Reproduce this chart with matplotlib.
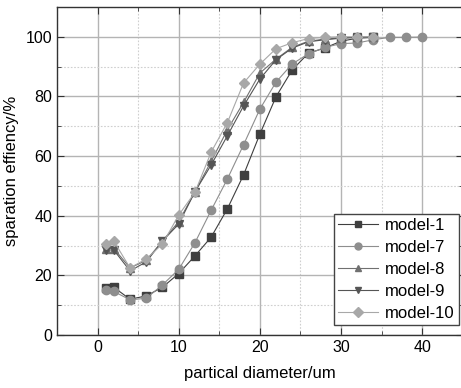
import numpy as np
import matplotlib
matplotlib.use("Agg")
import matplotlib.pyplot as plt
from matplotlib.ticker import MultipleLocator

plt.rcParams['font.family'] = ['Liberation Sans', 'DejaVu Sans']

# particle diameter (um)
x_short = [1, 2, 4, 6, 8, 10, 12, 14, 16, 18, 20, 22, 24, 26, 28, 30, 32, 34]
x_long = [1, 2, 4, 6, 8, 10, 12, 14, 16, 18, 20, 22, 24, 26, 28, 30, 32, 34, 36, 38, 40]

model_1 = [15.7, 16.0, 12.0, 13.1, 16.0, 20.6, 26.5, 32.8, 42.3, 53.7, 67.3, 79.9,
           88.9, 94.5, 96.2, 98.5, 99.5, 99.8]
model_7 = [15.0, 14.6, 11.8, 12.3, 16.8, 22.0, 30.9, 41.8, 52.3, 63.8, 75.7, 84.8,
           90.9, 94.3, 96.4, 97.7, 97.9, 99.0, 99.8, 99.8, 99.9]
model_8 = [29.0, 29.0, 22.5, 25.0, 31.5, 38.0, 48.0, 58.2, 68.8, 78.0, 87.8, 92.5,
           96.5, 98.5, 99.2, 99.6, 99.8, 100.0]
model_9 = [28.5, 28.5, 21.5, 24.5, 31.5, 37.2, 48.0, 57.0, 66.8, 76.8, 85.8, 92.3,
           96.2, 98.3, 99.0, 99.5, 99.8, 100.0]
model_10 = [30.5, 31.5, 22.5, 25.5, 30.5, 40.2, 47.8, 61.3, 71.2, 84.5, 90.8, 96.0,
            98.0, 99.4, 99.8, 100.0, 100.0, 100.0]

fig = plt.figure(figsize=(4.61, 3.88), dpi=100)
ax = fig.add_axes([0.1236, 0.1366, 0.88, 0.8456])

# grid
ax.grid(True, which="major", color="#b4b4b4", linewidth=1.0, linestyle="-")
ax.grid(True, which="minor", color="#cfcfcf", linewidth=0.8, linestyle=(0, (1.5, 1.5)))
ax.set_axisbelow(True)

series = [
    (x_short, model_1, "model-1", "s", "#3f3f3f"),
    (x_long, model_7, "model-7", "o", "#8e8e8e"),
    (x_short, model_8, "model-8", "^", "#707070"),
    (x_short, model_9, "model-9", "v", "#555555"),
    (x_short, model_10, "model-10", "D", "#a8a8a8"),
]
for xs, ys, lab, mk, col in series:
    ax.plot(xs, ys, color=col, linewidth=0.8, marker=mk,
            markersize=6 if mk != "D" else 5, markerfacecolor=col,
            markeredgecolor=col, label=lab)

ax.set_xlim(-5, 45)
ax.set_ylim(0, 110)
ax.xaxis.set_major_locator(MultipleLocator(10))
ax.xaxis.set_minor_locator(MultipleLocator(5))
ax.yaxis.set_major_locator(MultipleLocator(20))
ax.yaxis.set_minor_locator(MultipleLocator(10))
ax.tick_params(which="both", direction="in", top=True, right=True,
               color="#333333", labelsize=11.5)
ax.tick_params(which="major", length=5)
ax.tick_params(which="minor", length=3)

for sp in ax.spines.values():
    sp.set_color("#333333")
    sp.set_linewidth(1.0)

ax.set_xlabel("partical diameter/um", fontsize=12, labelpad=8)
ax.set_ylabel("sparation effiency/%", fontsize=12, labelpad=5)

leg = ax.legend(loc="lower right", bbox_to_anchor=(0.998, 0.02), fontsize=12,
                fancybox=False, framealpha=1, edgecolor="#444444",
                handlelength=2.4, borderpad=0.25, labelspacing=0.42,
                handletextpad=0.4, borderaxespad=0.2)
leg.get_frame().set_linewidth(1.0)
for h in leg.legend_handles:
    h.set_markersize(5)

fig.savefig("out.png", dpi=100)
